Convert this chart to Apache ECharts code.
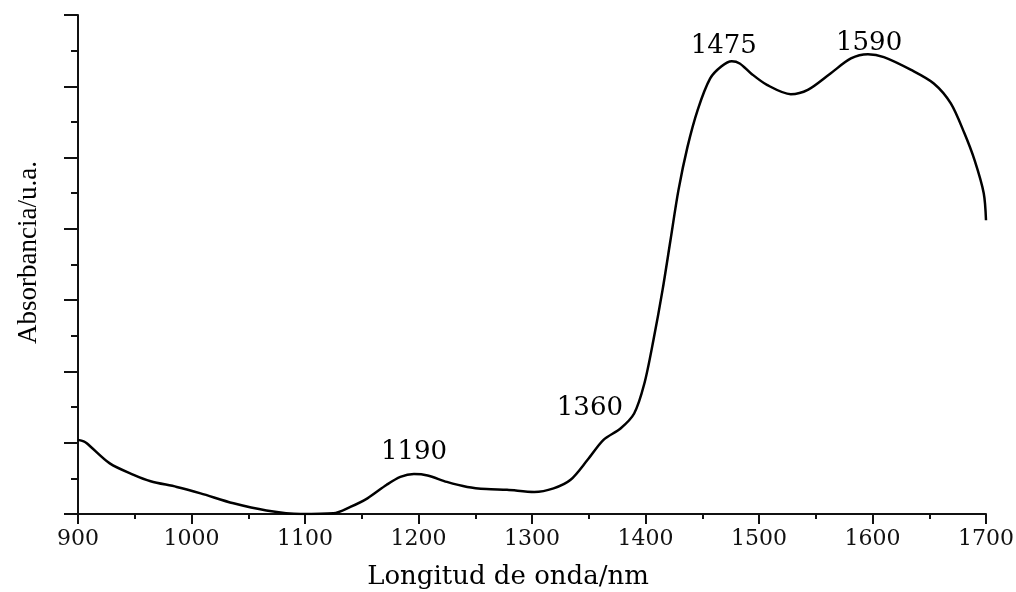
<!DOCTYPE html>
<html>
<head>
<meta charset="utf-8">
<script src="https://cdn.jsdelivr.net/npm/echarts@6/dist/echarts.min.js"></script>
<style>
  html, body { margin: 0; padding: 0; background: #fff; }
  #chart { width: 1016px; height: 592px; }
</style>
</head>
<body>
<div id="chart"></div>
<script>
// NIR spectrum (wavelength in nm, absorbance in arbitrary units)
const wavelength = [900, 905, 908, 928, 949, 964, 987, 1008, 1037, 1066,
  1096, 1125, 1140, 1155, 1172, 1184, 1196, 1208, 1225, 1243,
  1260, 1278, 1302, 1319, 1334, 1349, 1363, 1378, 1390, 1399,
  1407, 1415, 1422, 1429, 1437, 1446, 1457, 1467, 1476, 1483,
  1493, 1507, 1528, 1543, 1563, 1581, 1596, 1610, 1634, 1654,
  1669, 1681, 1690, 1698, 1700];
const absorbance = [1.04, 1.02, 0.99, 0.71, 0.55, 0.46, 0.38, 0.29, 0.15, 0.05,
  0.00, 0.01, 0.10, 0.22, 0.41, 0.52, 0.56, 0.54, 0.45, 0.38,
  0.35, 0.34, 0.31, 0.36, 0.48, 0.76, 1.04, 1.20, 1.41, 1.83,
  2.44, 3.14, 3.84, 4.54, 5.15, 5.67, 6.11, 6.28, 6.35, 6.32,
  6.18, 6.02, 5.89, 5.95, 6.18, 6.39, 6.45, 6.41, 6.23, 6.04,
  5.76, 5.34, 4.96, 4.50, 4.12];

// peak annotations: text and where its centre sits on the axes
const peakLabels = ["1190", "1360", "1475", "1590"];
const peakLabelX = [1196, 1351, 1469, 1597];
const peakLabelY = [0.86, 1.48, 6.56, 6.61];

const chart = echarts.init(document.getElementById("chart"));
const serif = "DejaVu Serif";

chart.setOption({
  animation: false,
  grid: { left: 78, right: 30, top: 15, bottom: 78, containLabel: false, outerBoundsMode: "none" },
  xAxis: {
    type: "value",
    min: 900,
    max: 1700,
    interval: 100,
    name: "Longitud de onda/nm",
    nameLocation: "middle",
    nameGap: 50,
    nameTextStyle: { fontFamily: serif, fontSize: 26, color: "#000", padding: [0, 48, 0, 0] },
    axisLine: { lineStyle: { color: "#111", width: 2 } },
    axisTick: { inside: false, length: 10, lineStyle: { color: "#111", width: 2 } },
    minorTick: { show: true, splitNumber: 2, length: 5, lineStyle: { color: "#111", width: 2 } },
    axisLabel: { fontFamily: serif, fontSize: 22, color: "#111", margin: 14, formatter: (v) => String(v) },
    splitLine: { show: false }
  },
  yAxis: {
    type: "value",
    min: 0,
    max: 7,
    interval: 1,
    name: "Absorbancia/u.a.",
    nameLocation: "middle",
    nameGap: 36,
    nameTextStyle: { fontFamily: "Liberation Serif", fontSize: 27, color: "#000", padding: [0, 0, 0, 24] },
    axisLine: { show: true, lineStyle: { color: "#111", width: 2 } },
    axisTick: { show: true, inside: false, length: 14, lineStyle: { color: "#111", width: 2 } },
    minorTick: { show: true, splitNumber: 2, length: 7, lineStyle: { color: "#111", width: 2 } },
    axisLabel: { show: false },
    splitLine: { show: false }
  },
  series: [
    {
      type: "line",
      data: wavelength.map((w, i) => [w, absorbance[i]]),
      smooth: 0.3,
      showSymbol: false,
      lineStyle: { color: "#000", width: 2.5 }
    },
    {
      type: "scatter",
      symbolSize: 0,
      silent: true,
      itemStyle: { opacity: 1 },
      data: peakLabels.map((t, i) => ({ value: [peakLabelX[i], peakLabelY[i]], name: t })),
      label: {
        show: true,
        position: "inside",
        formatter: (p) => p.name,
        fontFamily: serif,
        fontSize: 26,
        color: "#000",
        opacity: 1,
        textBorderWidth: 0
      }
    }
  ]
});
</script>
</body>
</html>
